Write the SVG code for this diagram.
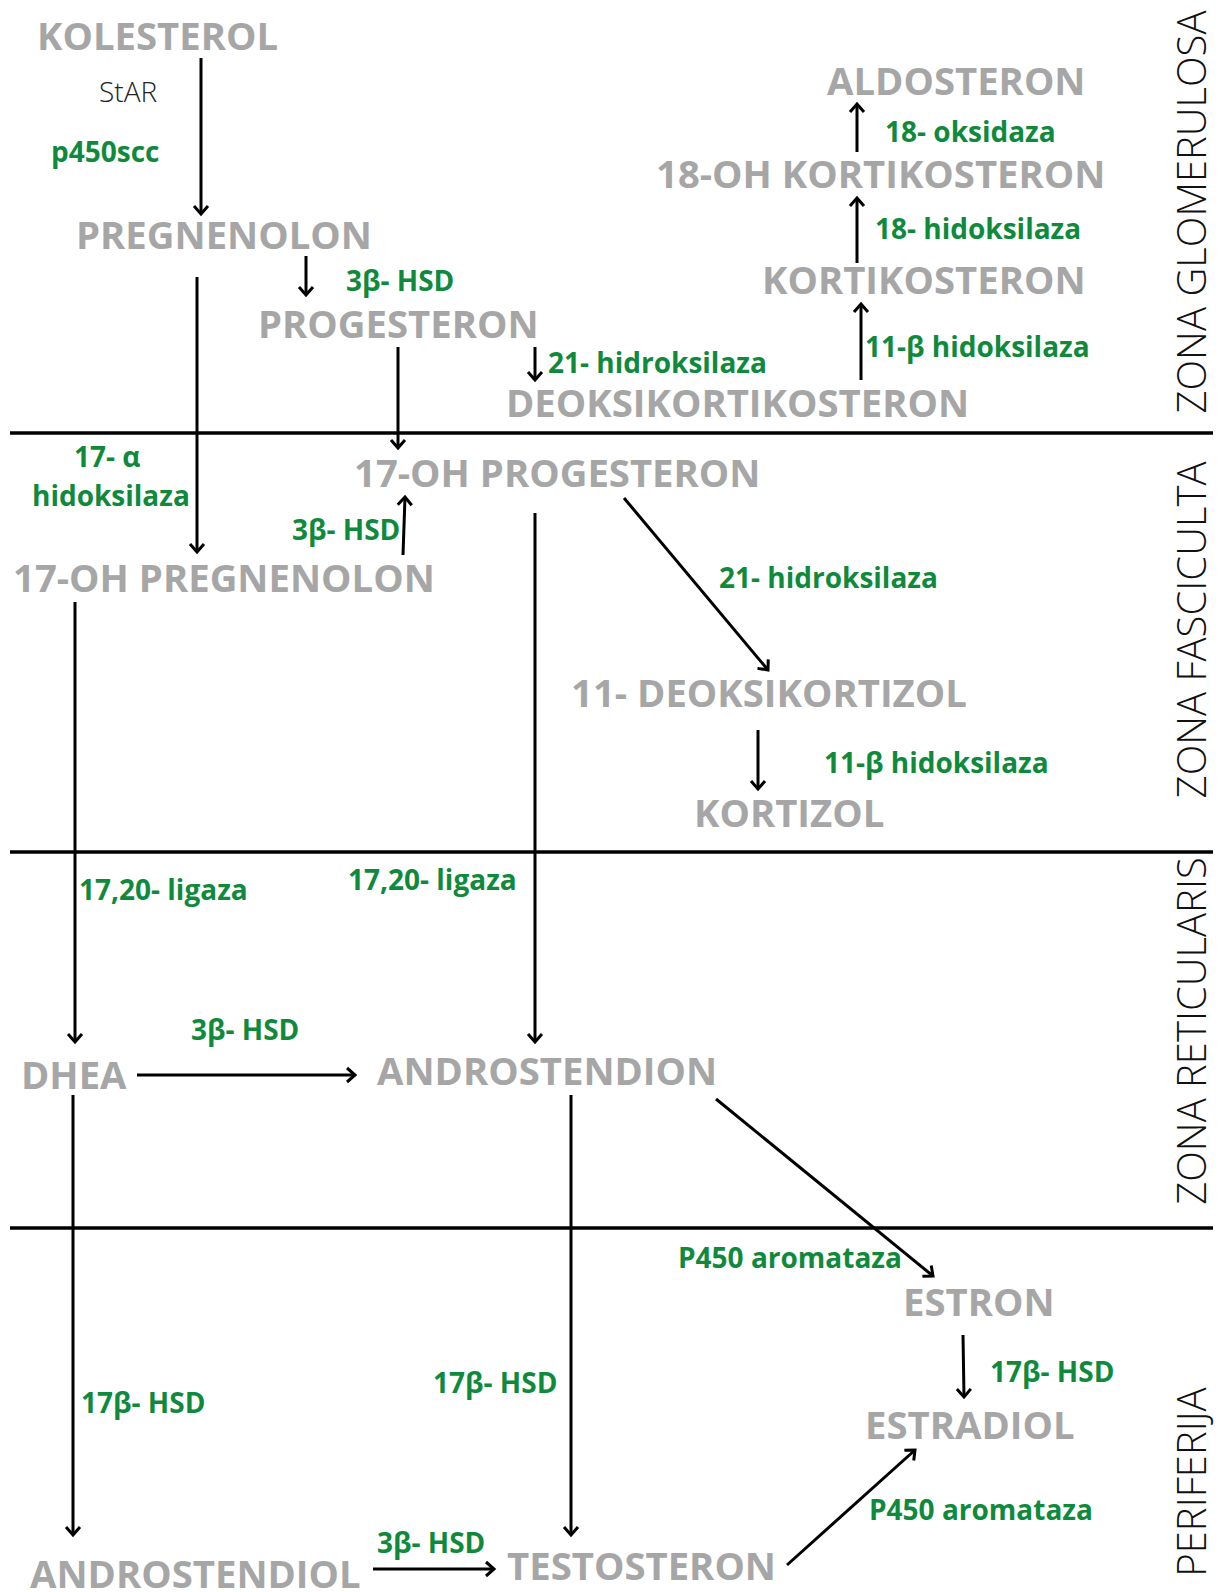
<svg xmlns="http://www.w3.org/2000/svg" width="1221" height="1592" viewBox="0 0 1221 1592">
<style>
.n{font-family:"Open Sans","Liberation Sans",sans-serif;font-weight:700;font-size:38.3px;fill:#a6a6a6}
.e{font-family:"Open Sans","Liberation Sans",sans-serif;font-weight:700;font-size:28px;fill:#0f8a3c}
.z{font-family:"Open Sans","Liberation Sans",sans-serif;font-weight:300;font-size:40px;fill:#111;text-anchor:middle}
.s{font-family:"Open Sans","Liberation Sans",sans-serif;font-weight:300;font-size:28px;fill:#222}
.a{stroke:#000;stroke-width:3;fill:none;marker-end:url(#h)}
.l{stroke:#000;stroke-width:3.5}
</style>
<defs>
<marker id="h" viewBox="-10 -10 20 20" refX="0" refY="0" markerWidth="20" markerHeight="20" markerUnits="userSpaceOnUse" orient="auto">
<path d="M-8,-7 L0,0 L-8,7" fill="none" stroke="#000" stroke-width="3"/>
</marker>
</defs>
<rect width="1221" height="1592" fill="#fff"/>
<g id="zones">
<line class="l" x1="10" y1="433" x2="1213" y2="433"/>
<line class="l" x1="10" y1="852" x2="1213" y2="852"/>
<line class="l" x1="10" y1="1228" x2="1213" y2="1228"/>
<text class="z" transform="translate(1206,212) rotate(-90)">ZONA GLOMERULOSA</text>
<text class="z" transform="translate(1206,630) rotate(-90)">ZONA FASCICULTA</text>
<text class="z" transform="translate(1206,1031) rotate(-90)">ZONA RETICULARIS</text>
<text class="z" transform="translate(1206,1482) rotate(-90)">PERIFERIJA</text>
</g>
<g id="connectors">
<line class="a" x1="201" y1="58" x2="201" y2="214"/>
<line class="a" x1="197" y1="277" x2="197" y2="552"/>
<line class="a" x1="306" y1="256" x2="306" y2="295"/>
<line class="a" x1="398" y1="347" x2="398" y2="448"/>
<line class="a" x1="535" y1="347" x2="535" y2="380"/>
<line class="a" x1="861" y1="380" x2="861" y2="304"/>
<line class="a" x1="857" y1="263" x2="857" y2="198"/>
<line class="a" x1="857" y1="152" x2="857" y2="104"/>
<line class="a" x1="403" y1="555" x2="405" y2="497"/>
<line class="a" x1="624" y1="498" x2="768" y2="670"/>
<line class="a" x1="535" y1="513" x2="535" y2="1042"/>
<line class="a" x1="758" y1="730" x2="758" y2="789"/>
<line class="a" x1="75" y1="602" x2="75" y2="1042"/>
<line class="a" x1="137" y1="1075" x2="355" y2="1075"/>
<line class="a" x1="73" y1="1095" x2="73" y2="1535"/>
<line class="a" x1="571" y1="1095" x2="571" y2="1535"/>
<line class="a" x1="716" y1="1099" x2="933" y2="1276"/>
<line class="a" x1="963" y1="1335" x2="964" y2="1397"/>
<line class="a" x1="787" y1="1565" x2="915" y2="1450"/>
<line class="a" x1="373" y1="1569" x2="494" y2="1569"/>
</g>
<g id="n-kolesterol"><text class="n" x="37" y="50">KOLESTEROL</text></g>
<g id="n-pregnenolon"><text class="n" x="76" y="249">PREGNENOLON</text></g>
<g id="n-progesteron"><text class="n" x="258" y="338">PROGESTERON</text></g>
<g id="n-deoksikortikosteron"><text class="n" x="506" y="417">DEOKSIKORTIKOSTERON</text></g>
<g id="n-aldosteron"><text class="n" x="827" y="95">ALDOSTERON</text></g>
<g id="n-18oh"><text class="n" x="656" y="188">18-OH KORTIKOSTERON</text></g>
<g id="n-kortikosteron"><text class="n" x="762" y="294">KORTIKOSTERON</text></g>
<g id="n-17ohprog"><text class="n" x="354" y="487">17-OH PROGESTERON</text></g>
<g id="n-17ohpreg"><text class="n" x="13" y="592">17-OH PREGNENOLON</text></g>
<g id="n-11deoksi"><text class="n" x="571" y="707">11- DEOKSIKORTIZOL</text></g>
<g id="n-kortizol"><text class="n" x="694" y="827">KORTIZOL</text></g>
<g id="n-dhea"><text class="n" x="21" y="1089">DHEA</text></g>
<g id="n-androstendion"><text class="n" x="377" y="1085">ANDROSTENDION</text></g>
<g id="n-estron"><text class="n" x="903" y="1316">ESTRON</text></g>
<g id="n-estradiol"><text class="n" x="865" y="1439">ESTRADIOL</text></g>
<g id="n-androstendiol"><text class="n" x="30" y="1588">ANDROSTENDIOL</text></g>
<g id="n-testosteron"><text class="n" x="507" y="1580">TESTOSTERON</text></g>
<g id="labels">
<text class="s" x="99" y="102">StAR</text>
<text class="e" x="51" y="162">p450scc</text>
<text class="e" x="346" y="291">3β- HSD</text>
<text class="e" x="548" y="373">21- hidroksilaza</text>
<text class="e" x="885" y="142">18- oksidaza</text>
<text class="e" x="875" y="239">18- hidoksilaza</text>
<text class="e" x="865" y="357">11-β hidoksilaza</text>
<text class="e" x="74" y="467">17- α</text>
<text class="e" x="32" y="506">hidoksilaza</text>
<text class="e" x="292" y="540">3β- HSD</text>
<text class="e" x="719" y="588">21- hidroksilaza</text>
<text class="e" x="824" y="773">11-β hidoksilaza</text>
<text class="e" x="79" y="900">17,20- ligaza</text>
<text class="e" x="348" y="890">17,20- ligaza</text>
<text class="e" x="191" y="1040">3β- HSD</text>
<text class="e" x="678" y="1268">P450 aromataza</text>
<text class="e" x="990" y="1382">17β- HSD</text>
<text class="e" x="81" y="1413">17β- HSD</text>
<text class="e" x="433" y="1393">17β- HSD</text>
<text class="e" x="869" y="1520">P450 aromataza</text>
<text class="e" x="377" y="1553">3β- HSD</text>
</g>
</svg>
